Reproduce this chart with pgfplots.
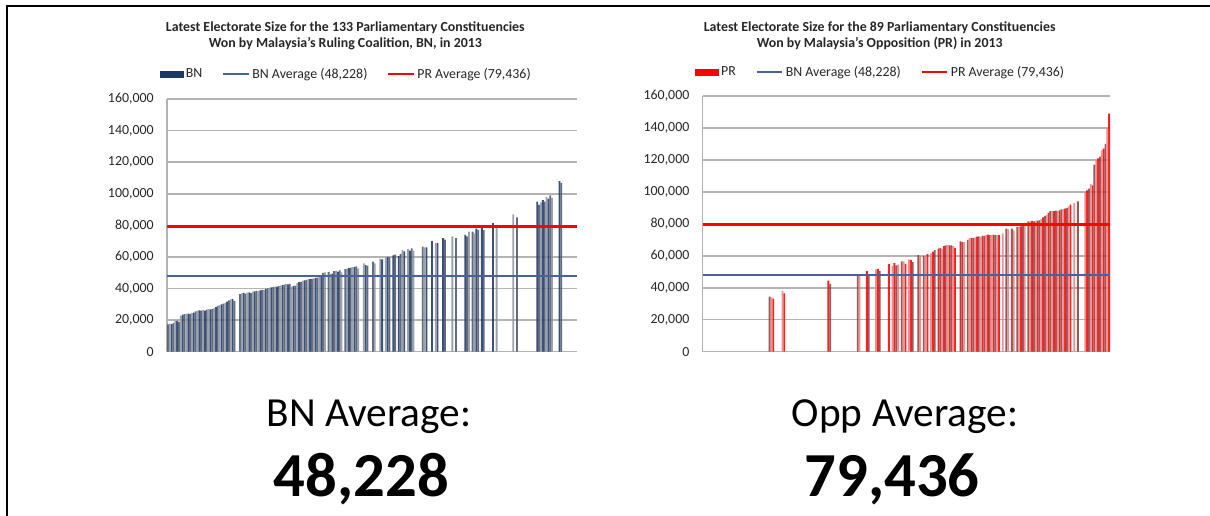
\documentclass[border=0pt]{standalone}
\usepackage{fontspec}
\setmainfont{Carlito}
\usepackage{pgfplots}
\pgfplotsset{compat=1.18}
\usepackage{pgfplotstable}

\definecolor{bnnavy}{HTML}{1F3864}
\definecolor{bngray}{HTML}{4C586E}
\definecolor{bnlight}{HTML}{8D95A3}
\definecolor{bnavg}{HTML}{4A6298}
\definecolor{prred}{HTML}{FF0000}
\definecolor{prpink}{HTML}{EE8080}
\definecolor{prbrown}{HTML}{874343}
\definecolor{gridgray}{HTML}{B3B3B3}
\definecolor{txt}{HTML}{262626}

% BN-won constituencies (position in overall ranking, electorate)
\pgfplotstableread{
x y
1 17300
2 17800
3 17500
4 18200
5 19500
6 19600
7 18900
8 22800
9 23500
10 23800
11 24000
12 24200
13 24000
14 24500
15 24800
16 25600
17 26000
18 26200
19 26000
20 26300
21 26100
22 26600
23 27000
24 26800
25 27200
26 27500
27 28300
28 29000
29 29500
30 30000
31 30400
32 31000
33 31800
34 32500
35 33200
36 33500
37 32200
40 36500
41 37000
42 37200
43 36800
44 37400
45 37600
46 37100
47 38000
48 38200
49 38600
50 38400
51 38900
52 39200
53 39000
54 39600
55 40100
56 40500
57 40800
58 41000
59 41200
60 41300
61 41600
62 41800
63 42200
64 42500
65 42800
66 42600
67 42900
68 41200
69 41500
70 41800
71 43500
72 44000
73 44300
74 44800
75 45200
76 45500
77 45800
78 46000
79 46200
80 46500
81 46700
82 47000
83 47200
84 47500
85 50000
86 50300
88 50500
89 49200
90 49500
91 51000
92 51200
93 50800
94 51500
95 50200
97 52300
98 52600
99 53000
100 53300
101 53500
102 53800
103 54000
104 52800
107 56000
108 55000
109 54500
112 57000
113 56000
116 59000
117 58500
119 59500
120 60000
121 59800
123 61000
124 61500
126 60500
127 62000
128 64500
129 63500
131 65000
132 64000
133 65500
134 64000
139 66500
140 66000
141 66000
144 70000
146 69000
147 69000
150 72000
151 71000
155 73000
157 72000
162 74000
163 73000
164 76000
166 76000
167 75000
168 78000
169 77000
171 79000
172 77000
177 81500
179 80000
188 87000
190 85000
201 95000
202 93000
203 94500
204 96000
205 95000
206 98000
207 97000
208 99000
209 97500
213 108000
214 107000
}\bndata

% PR-won constituencies
\pgfplotstableread{
x y
37 34400
38 34000
39 33300
44 38000
45 36500
69 44500
70 42500
85 48000
86 48000
90 50500
91 48000
95 51500
96 51800
97 50500
102 55000
104 53500
105 55500
106 54000
107 54500
109 56500
110 56500
111 55000
113 57800
114 57500
115 56000
118 60500
119 59800
121 60000
122 60200
123 61000
125 61500
126 62600
127 63500
129 64500
130 65000
131 64500
132 66000
133 66500
134 66800
135 66600
136 66500
137 66000
138 65000
141 69000
142 68500
143 68500
145 70000
146 71000
147 71200
148 71000
149 71500
150 72000
151 72200
152 71800
153 72500
154 72500
155 73000
156 73200
157 73000
158 73100
159 73300
160 73000
161 72800
162 73000
164 74000
166 77000
167 76500
169 77000
170 76000
172 78000
173 78200
174 78500
175 79000
176 79200
178 81500
179 81500
180 81800
181 81600
182 82000
183 82000
184 82200
185 83000
186 84000
187 85000
188 85500
189 87000
190 88000
191 88200
192 88000
193 88300
194 88000
195 88500
196 89000
197 89200
198 89500
199 90000
200 91000
201 92000
203 93000
205 94000
209 100000
210 101000
211 102000
212 105000
213 104000
214 117000
215 120000
216 121000
217 122000
218 126000
219 127000
220 130000
221 140000
222 149000
}\prdata

\pgfplotsset{
  elect/.style={
    scale only axis,
    xmin=0.5, xmax=222.5, ymin=0, ymax=160000,
    ytick={0,20000,40000,60000,80000,100000,120000,140000,160000},
    yticklabels={0,{20,000},{40,000},{60,000},{80,000},{100,000},{120,000},{140,000},{160,000}},
    xtick=\empty,
    ymajorgrids,
    grid style={gridgray, line width=1.1pt},
    axis x line*=bottom, axis y line*=left,
    axis line style={gridgray, line width=1pt, -},
    major tick length=0pt,
    scaled y ticks=false,
    yticklabel style={font=\fontsize{10.4}{12}\selectfont, text=txt, xshift=-6.5pt},
    title style={at={(0.5,1)}, anchor=center, xshift=-20pt,
      font=\bfseries\fontsize{10.4}{12.5}\selectfont, align=center, text=txt},
    legend columns=-1,
    legend style={draw=none, fill=none, at={(0.5,1)}, anchor=center, xshift=-19pt,
      font=\fontsize{10.4}{12}\selectfont, text=txt, inner sep=0pt,
      /tikz/every even column/.append style={column sep=13pt}},
  },
  bars/.style={ybar, bar width=1.0, bar shift=0pt, draw=none, fill opacity=0.88, forget plot},
  grp/.style={x filter/.expression={mod(x,3)==#1 ? x : nan}},
}

\begin{document}
\begin{tikzpicture}
\useasboundingbox (0,0) rectangle (907.5pt,387pt);
\draw[line width=1.5pt] (5.6pt,0) -- (5.6pt,382.5pt) -- (907.5pt,382.5pt);

\begin{axis}[elect, at={(125.25pt,123.2pt)}, anchor=south west,
  width=307.5pt, height=189.5pt,
  title style={yshift=41.5pt}, legend style={yshift=18.5pt},
  title={Latest Electorate Size for the 133 Parliamentary Constituencies\\Won by Malaysia's Ruling Coalition, BN, in 2013}]
\addplot[bars, fill=bnnavy, grp=0] table {\bndata};
\addplot[bars, fill=bngray, grp=1] table {\bndata};
\addplot[bars, fill=bnlight, grp=2] table {\bndata};
\addlegendimage{legend image code/.code={\fill[bnnavy] (0pt,-2.5pt) rectangle (17pt,2.5pt);}}
\addlegendentry{BN}
\addplot[bnavg, line width=1.5pt, legend image code/.code={\draw[bnavg, line width=1.5pt] (0pt,0pt) -- (19pt,0pt);}] coordinates {(0.5,48228) (222.5,48228)};
\addlegendentry{BN Average (48,228)}
\addplot[prred, line width=2.2pt, legend image code/.code={\draw[prred, line width=1.5pt] (0pt,0pt) -- (19pt,0pt);}] coordinates {(0.5,79436) (222.5,79436)};
\addlegendentry{PR Average (79,436)}
\end{axis}

\begin{axis}[elect, at={(527pt,123.2pt)}, anchor=south west,
  width=305.5pt, height=191.8pt,
  title style={yshift=39.25pt}, legend style={yshift=17.75pt},
  title={Latest Electorate Size for the 89 Parliamentary Constituencies\\Won by Malaysia's Opposition (PR) in 2013}]
\addplot[bars, fill=prred, grp=0] table {\prdata};
\addplot[bars, fill=prbrown, grp=1] table {\prdata};
\addplot[bars, fill=prpink, grp=2] table {\prdata};
\addlegendimage{legend image code/.code={\fill[prred] (0pt,-2.5pt) rectangle (17pt,2.5pt);}}
\addlegendentry{PR}
\addplot[bnavg, line width=1.5pt, legend image code/.code={\draw[bnavg, line width=1.5pt] (0pt,0pt) -- (19pt,0pt);}] coordinates {(0.5,48228) (222.5,48228)};
\addlegendentry{BN Average (48,228)}
\addplot[prred, line width=2.2pt, legend image code/.code={\draw[prred, line width=1.5pt] (0pt,0pt) -- (19pt,0pt);}] coordinates {(0.5,79436) (222.5,79436)};
\addlegendentry{PR Average (79,436)}
\end{axis}

\node[anchor=base, inner sep=0pt, font=\fontsize{31}{36}\selectfont] at (276.75pt,66.75pt) {BN Average:};
\node[anchor=base, inner sep=0pt, font=\bfseries\fontsize{47}{56}\selectfont] at (271pt,14.25pt) {48,228};
\node[anchor=base, inner sep=0pt, font=\fontsize{31}{36}\selectfont] at (678.75pt,66.75pt) {Opp Average:};
\node[anchor=base, inner sep=0pt, font=\bfseries\fontsize{47}{56}\selectfont] at (669pt,14.25pt) {79,436};
\end{tikzpicture}
\end{document}
